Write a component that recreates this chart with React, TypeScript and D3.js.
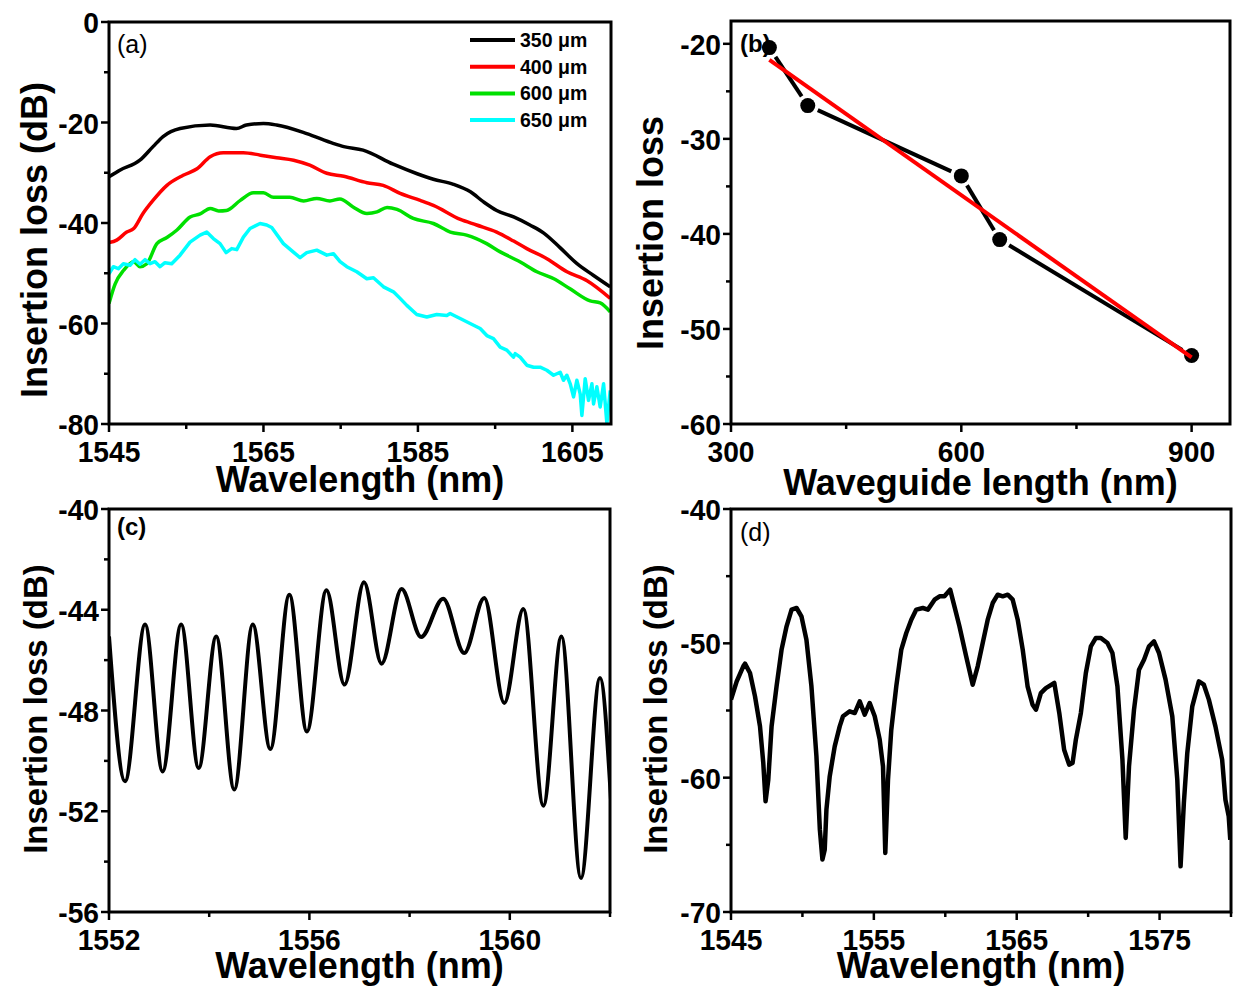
import React from "react";
import * as d3 from "d3";

// ---------- Panel (a) data ----------
const aWl350 = [1545.0,1546.4,1549.0,1550.7,1552.0,1554.2,1558.1,1561.5,1562.8,1565.0,1566.7,1570.6,1574.1,1575.4,1577.9,1581.8,1584.9,1587.0,1589.6,1591.8,1593.5,1595.2,1597.4,1599.5,1601.3,1603.4,1605.6,1607.7,1609.9];
const aIl350 = [-30.8,-29.5,-27.5,-24.8,-22.8,-21.2,-20.5,-21.2,-20.5,-20.2,-20.5,-22.2,-24.2,-24.8,-25.5,-28.3,-30.2,-31.3,-32.3,-33.8,-35.8,-37.5,-38.8,-40.4,-42.0,-44.9,-48.1,-50.4,-52.7];

const aWl400 = [1545.0,1546.0,1547.3,1548.2,1549.4,1550.7,1552.5,1554.6,1556.4,1558.1,1559.8,1562.4,1564.6,1566.7,1568.9,1571.0,1573.2,1575.4,1578.4,1580.5,1582.7,1585.3,1587.0,1590.5,1592.6,1595.2,1597.4,1599.1,1601.7,1604.3,1606.9,1609.9];
const aIl400 = [-43.9,-43.4,-41.8,-41.1,-38.1,-35.5,-32.5,-30.5,-29.2,-26.8,-26.0,-26.0,-26.5,-27.0,-27.5,-28.5,-30.1,-30.7,-32.0,-32.5,-34.1,-35.5,-36.5,-39.3,-40.4,-41.8,-43.6,-45.1,-47.1,-49.7,-51.5,-55.0];

const aWl600 = [1545.0,1545.8,1546.9,1548.2,1549.0,1549.9,1551.2,1552.5,1553.8,1555.5,1556.8,1558.1,1559.2,1560.2,1562.0,1563.7,1565.0,1566.3,1568.4,1570.2,1571.9,1573.6,1574.9,1576.6,1578.4,1579.7,1581.0,1582.3,1584.4,1587.0,1589.2,1591.3,1593.9,1595.6,1598.2,1600.4,1602.6,1604.7,1607.3,1608.6,1609.9];
const aIl600 = [-56.0,-52.1,-49.4,-47.7,-48.7,-48.1,-44.1,-42.9,-41.4,-38.8,-38.2,-37.1,-37.6,-37.5,-35.5,-34.0,-34.0,-34.9,-34.9,-35.6,-35.1,-35.6,-35.2,-36.8,-38.1,-37.8,-36.9,-37.3,-39.1,-40.1,-41.8,-42.4,-44.1,-45.7,-47.7,-49.7,-51.1,-53.1,-55.5,-55.9,-57.7];

const aWl650 = [1545.0,1545.56,1546.21,1546.86,1547.72,1548.37,1549.02,1549.66,1550.31,1550.96,1551.61,1552.25,1553.12,1554.2,1555.49,1556.79,1557.65,1558.51,1559.38,1560.16,1560.89,1561.54,1562.4,1563.26,1564.56,1565.42,1566.07,1567.58,1568.88,1569.74,1570.6,1571.9,1573.2,1574.06,1574.92,1575.79,1577.08,1578.38,1579.24,1580.54,1581.83,1582.69,1583.56,1584.85,1586.15,1587.44,1588.74,1589.17,1590.47,1591.76,1593.06,1593.92,1594.78,1595.65,1596.51,1597.37,1597.59,1598.24,1599.1,1599.97,1600.83,1601.69,1602.56,1603.42,1603.85,1604.28,1604.72,1605.15,1605.58,1606.01,1606.23,1606.66,1607.09,1607.53,1607.74,1608.17,1608.6,1609.04,1609.47,1609.9];
const aIl650 = [-50.1,-48.7,-49.1,-48.1,-48.4,-47.3,-48.2,-47.3,-48.1,-47.7,-48.7,-47.9,-48.1,-46.4,-43.8,-42.4,-41.8,-43.1,-44.1,-45.9,-45.1,-45.3,-42.8,-41.1,-40.1,-40.4,-40.9,-44.1,-45.8,-46.9,-45.9,-45.4,-46.4,-46.1,-47.7,-48.7,-49.7,-51.1,-50.9,-52.7,-53.7,-55.0,-56.4,-58.2,-58.7,-58.2,-58.4,-58.0,-59.0,-60.0,-61.0,-62.4,-63.0,-64.7,-65.3,-66.7,-66.0,-66.7,-68.3,-68.7,-68.7,-69.3,-70.3,-69.7,-71.3,-70.3,-72.0,-74.6,-71.3,-74.0,-78.3,-71.0,-75.3,-72.0,-76.0,-72.6,-76.6,-72.0,-79.9,-73.3];

const aLegend = ["350 \u03bcm", "400 \u03bcm", "600 \u03bcm", "650 \u03bcm"];
const aColors = ["#000000", "#ff0000", "#00e000", "#00ffff"];
const aXMajor = [1545, 1565, 1585, 1605];
const aXMinor = [1555, 1575, 1595];
const aYMajor = [0, -20, -40, -60, -80];
const aYMinor = [-10, -30, -50, -70];

// ---------- Panel (b) data ----------
const bLength = [350, 400, 600, 650, 900];
const bLoss = [-20.4, -26.5, -33.9, -40.6, -52.8];
const bFitX = [350, 900];
const bFitY = [-21.7, -53.0];
const bXMajor = [300, 600, 900];
const bXMinor = [450, 750];
const bYMajor = [-20, -30, -40, -50, -60];
const bYMinor = [-25, -35, -45, -55];

// ---------- Panel (c) data ----------
const cWl = [1552.0,1552.32,1552.72,1553.07,1553.44,1553.79,1554.14,1554.5,1554.87,1555.22,1555.6,1555.95,1556.34,1556.7,1557.09,1557.44,1557.84,1558.23,1558.67,1559.09,1559.49,1559.89,1560.27,1560.67,1561.03,1561.42,1561.8,1562.02];
const cIl = [-45.06,-50.81,-44.59,-50.42,-44.59,-50.28,-45.06,-51.14,-44.59,-49.53,-43.4,-48.83,-43.23,-46.97,-42.91,-46.14,-43.18,-45.08,-43.56,-45.72,-43.53,-47.7,-43.97,-51.78,-45.06,-54.65,-46.71,-51.54];
const cXMajor = [1552, 1556, 1560];
const cXMinor = [1554, 1558, 1562];
const cYMajor = [-40, -44, -48, -52, -56];
const cYMinor = [-42, -46, -50, -54];

// ---------- Panel (d) data ----------
const dWl = [1545.0,1545.4,1545.86,1545.98,1546.33,1546.68,1547.03,1547.26,1547.42,1547.61,1547.84,1548.19,1548.54,1548.89,1549.24,1549.59,1549.93,1550.28,1550.63,1550.98,1551.22,1551.4,1551.56,1551.68,1551.91,1552.26,1552.61,1552.84,1553.31,1553.66,1554.01,1554.36,1554.71,1555.06,1555.41,1555.64,1555.8,1555.99,1556.22,1556.57,1556.92,1557.27,1557.62,1557.97,1558.43,1558.78,1559.25,1559.6,1559.94,1560.34,1560.64,1560.99,1561.46,1561.92,1562.27,1562.62,1562.97,1563.32,1563.67,1564.02,1564.37,1564.72,1565.07,1565.42,1565.76,1566.11,1566.35,1566.69,1567.04,1567.63,1567.98,1568.32,1568.67,1568.91,1569.14,1569.49,1569.84,1570.19,1570.54,1570.89,1571.35,1571.7,1572.05,1572.4,1572.63,1572.86,1573.21,1573.56,1573.91,1574.26,1574.61,1574.96,1575.42,1575.89,1576.24,1576.47,1576.7,1576.94,1577.29,1577.75,1578.1,1578.45,1578.91,1579.38,1579.61,1579.84,1579.95];
const dIl = [-54.19,-52.83,-51.71,-51.51,-52.21,-53.95,-56.18,-58.91,-61.76,-60.15,-56.18,-53.2,-50.47,-48.73,-47.49,-47.37,-47.99,-49.73,-53.2,-58.41,-63.87,-66.1,-65.36,-62.38,-59.9,-57.67,-56.18,-55.43,-55.06,-55.19,-54.32,-55.31,-54.44,-55.43,-57.17,-59.16,-65.61,-60.15,-56.43,-53.2,-50.47,-49.23,-48.24,-47.49,-47.37,-47.49,-46.75,-46.5,-46.5,-46.0,-47.25,-48.73,-50.97,-53.08,-51.71,-49.98,-48.24,-47.0,-46.38,-46.5,-46.38,-46.75,-48.24,-50.47,-53.2,-54.57,-54.94,-53.7,-53.33,-52.95,-55.19,-57.92,-59.03,-58.91,-57.17,-55.19,-52.21,-50.22,-49.6,-49.6,-49.98,-50.72,-53.2,-58.66,-64.49,-59.16,-54.94,-51.96,-51.22,-50.22,-49.85,-50.72,-52.7,-55.43,-60.15,-66.6,-61.89,-58.16,-54.69,-52.83,-53.08,-54.19,-56.18,-58.66,-61.64,-62.88,-64.62];
const dXMajor = [1545, 1555, 1565, 1575];
const dXMinor = [1550, 1560, 1570, 1580];
const dYMajor = [-40, -50, -60, -70];
const dYMinor = [-45, -55, -65];

const FONT = "'Liberation Sans', Arial, Helvetica, sans-serif";

type Box = { x0: number; x1: number; y0: number; y1: number };

function Axes(props: {
  box: Box;
  x: d3.ScaleLinear<number, number>;
  y: d3.ScaleLinear<number, number>;
  xMajor: number[];
  xMinor: number[];
  yMajor: number[];
  yMinor: number[];
  xLabel: string;
  yLabel: string;
  yLabelCenter: number;
  yLabelX: number;
  yLabelSize: number;
  xLabelY: number;
}) {
  const { box, x, y } = props;
  const tw = 2.5;
  const tickFont = 30;
  return (
    <g>
      {props.xMajor.map((t) => (
        <g key={"xM" + t}>
          <line x1={x(t)} x2={x(t)} y1={box.y1} y2={box.y1 + 8} stroke="#000" strokeWidth={tw} />
          <text
            transform={`translate(${x(t)},${box.y1 + 38}) scale(0.94,1)`}
            textAnchor="middle"
            fontFamily={FONT}
            fontWeight="bold"
            fontSize={tickFont}
          >
            {t}
          </text>
        </g>
      ))}
      {props.xMinor.map((t) => (
        <line key={"xm" + t} x1={x(t)} x2={x(t)} y1={box.y1} y2={box.y1 + 5} stroke="#000" strokeWidth={tw} />
      ))}
      {props.yMajor.map((t) => (
        <g key={"yM" + t}>
          <line x1={box.x0 - 8} x2={box.x0} y1={y(t)} y2={y(t)} stroke="#000" strokeWidth={tw} />
          <text
            transform={`translate(${box.x0 - 10},${y(t) + 11}) scale(0.94,1)`}
            textAnchor="end"
            fontFamily={FONT}
            fontWeight="bold"
            fontSize={tickFont}
          >
            {t}
          </text>
        </g>
      ))}
      {props.yMinor.map((t) => (
        <line key={"ym" + t} x1={box.x0 - 5} x2={box.x0} y1={y(t)} y2={y(t)} stroke="#000" strokeWidth={tw} />
      ))}
      <rect x={box.x0} y={box.y0} width={box.x1 - box.x0} height={box.y1 - box.y0} fill="none" stroke="#000" strokeWidth={3} />
      <text
        x={(box.x0 + box.x1) / 2}
        y={props.xLabelY}
        textAnchor="middle"
        fontFamily={FONT}
        fontWeight="bold"
        fontSize={36}
      >
        {props.xLabel}
      </text>
      <text
        transform={`translate(${props.yLabelX},${props.yLabelCenter}) rotate(-90)`}
        textAnchor="middle"
        fontFamily={FONT}
        fontWeight="bold"
        fontSize={props.yLabelSize}
      >
        {props.yLabel}
      </text>
    </g>
  );
}

function linePath(
  xs: number[],
  ys: number[],
  x: d3.ScaleLinear<number, number>,
  y: d3.ScaleLinear<number, number>,
  curve: d3.CurveFactory = d3.curveLinear
) {
  const pts = xs.map((v, i) => [v, ys[i]] as [number, number]);
  return (
    d3
      .line<[number, number]>()
      .x((d) => x(d[0]))
      .y((d) => y(d[1]))
      .curve(curve)(pts) || ""
  );
}

export default function App() {
  const W = 1233;
  const H = 989;

  // Panel (a)
  const boxA: Box = { x0: 109, x1: 611, y0: 22, y1: 424 };
  const xA = d3.scaleLinear().domain([1545, 1610]).range([boxA.x0, boxA.x1]);
  const yA = d3.scaleLinear().domain([-80, 0]).range([boxA.y1, boxA.y0]);
  const seriesA = [
    [aWl350, aIl350],
    [aWl400, aIl400],
    [aWl600, aIl600],
    [aWl650, aIl650],
  ];

  // Panel (b)
  const boxB: Box = { x0: 731, x1: 1230, y0: 21, y1: 424 };
  const xB = d3.scaleLinear().domain([300, 950]).range([boxB.x0, boxB.x1]);
  const yB = d3.scaleLinear().domain([-60, -17.6]).range([boxB.y1, boxB.y0]);
  const gap = 11;
  const bSegs = bLength.slice(0, -1).map((v, i) => {
    const ax = xB(v), ay = yB(bLoss[i]);
    const bx = xB(bLength[i + 1]), by = yB(bLoss[i + 1]);
    const len = Math.hypot(bx - ax, by - ay);
    const ux = (bx - ax) / len, uy = (by - ay) / len;
    return { x1: ax + ux * gap, y1: ay + uy * gap, x2: bx - ux * gap, y2: by - uy * gap };
  });

  // Panel (c)
  const boxC: Box = { x0: 109, x1: 610, y0: 509, y1: 912 };
  const xC = d3.scaleLinear().domain([1552, 1562]).range([boxC.x0, boxC.x1]);
  const yC = d3.scaleLinear().domain([-56, -40]).range([boxC.y1, boxC.y0]);

  // Panel (d)
  const boxD: Box = { x0: 731, x1: 1231, y0: 509, y1: 912 };
  const xD = d3.scaleLinear().domain([1545, 1580]).range([boxD.x0, boxD.x1]);
  const yD = d3.scaleLinear().domain([-70, -40]).range([boxD.y1, boxD.y0]);

  const clip = (id: string, b: Box) => (
    <clipPath id={id}>
      <rect x={b.x0} y={b.y0} width={b.x1 - b.x0} height={b.y1 - b.y0} />
    </clipPath>
  );

  return (
    <svg
      width={W}
      height={H}
      viewBox={`0 0 ${W} ${H}`}
      style={{ position: "absolute", left: 0, top: 0, background: "#fff" }}
    >
      <defs>
        {clip("clipA", boxA)}
        {clip("clipB", boxB)}
        {clip("clipC", boxC)}
        {clip("clipD", boxD)}
      </defs>
      <rect x={0} y={0} width={W} height={H} fill="#fff" />

      {/* Panel (a) */}
      <g clipPath="url(#clipA)">
        {seriesA.map((s, i) => (
          <path
            key={i}
            d={linePath(s[0], s[1], xA, yA, i === 3 ? d3.curveLinear : d3.curveMonotoneX)}
            fill="none"
            stroke={aColors[i]}
            strokeWidth={3.5}
            strokeLinejoin="round"
          />
        ))}
      </g>
      <text x={117} y={53} fontFamily={FONT} fontSize={25}>(a)</text>
      {aLegend.map((lab, i) => (
        <g key={lab}>
          <line x1={470} x2={515} y1={40 + i * 26.7} y2={40 + i * 26.7} stroke={aColors[i]} strokeWidth={4} />
          <text x={520} y={40 + i * 26.7 + 7} fontFamily={FONT} fontWeight="bold" fontSize={19.5}>
            {lab}
          </text>
        </g>
      ))}
      <Axes
        box={boxA}
        x={xA}
        y={yA}
        xMajor={aXMajor}
        xMinor={aXMinor}
        yMajor={aYMajor}
        yMinor={aYMinor}
        xLabel="Wavelength (nm)"
        yLabel="Insertion loss (dB)"
        yLabelCenter={240}
        yLabelX={47}
        yLabelSize={36}
        xLabelY={492}
      />

      {/* Panel (b) */}
      <text x={740} y={52} fontFamily={FONT} fontWeight="bold" fontSize={24}>(b)</text>
      <g clipPath="url(#clipB)">
        {bSegs.map((s, i) => (
          <line key={i} x1={s.x1} y1={s.y1} x2={s.x2} y2={s.y2} stroke="#000" strokeWidth={4} />
        ))}
        {bLength.map((v, i) => (
          <circle key={v} cx={xB(v)} cy={yB(bLoss[i])} r={7.5} fill="#000" />
        ))}
        <path d={linePath(bFitX, bFitY, xB, yB)} fill="none" stroke="#ff0000" strokeWidth={4} />
      </g>
      <Axes
        box={boxB}
        x={xB}
        y={yB}
        xMajor={bXMajor}
        xMinor={bXMinor}
        yMajor={bYMajor}
        yMinor={bYMinor}
        xLabel="Waveguide length (nm)"
        yLabel="Insertion loss"
        yLabelCenter={233}
        yLabelX={663}
        yLabelSize={36}
        xLabelY={495}
      />

      {/* Panel (c) */}
      <g clipPath="url(#clipC)">
        <path d={linePath(cWl, cIl, xC, yC, d3.curveMonotoneX)} fill="none" stroke="#000" strokeWidth={4} />
      </g>
      <text x={117} y={535} fontFamily={FONT} fontWeight="bold" fontSize={24}>(c)</text>
      <Axes
        box={boxC}
        x={xC}
        y={yC}
        xMajor={cXMajor}
        xMinor={cXMinor}
        yMajor={cYMajor}
        yMinor={cYMinor}
        xLabel="Wavelength (nm)"
        yLabel="Insertion loss (dB)"
        yLabelCenter={709}
        yLabelX={47}
        yLabelSize={33}
        xLabelY={978}
      />

      {/* Panel (d) */}
      <g clipPath="url(#clipD)">
        <path d={linePath(dWl, dIl, xD, yD)} fill="none" stroke="#000" strokeWidth={4.5} strokeLinejoin="round" />
      </g>
      <text x={740} y={541} fontFamily={FONT} fontSize={25}>(d)</text>
      <Axes
        box={boxD}
        x={xD}
        y={yD}
        xMajor={dXMajor}
        xMinor={dXMinor}
        yMajor={dYMajor}
        yMinor={dYMinor}
        xLabel="Wavelength (nm)"
        yLabel="Insertion loss (dB)"
        yLabelCenter={709}
        yLabelX={667}
        yLabelSize={33}
        xLabelY={978}
      />
    </svg>
  );
}
